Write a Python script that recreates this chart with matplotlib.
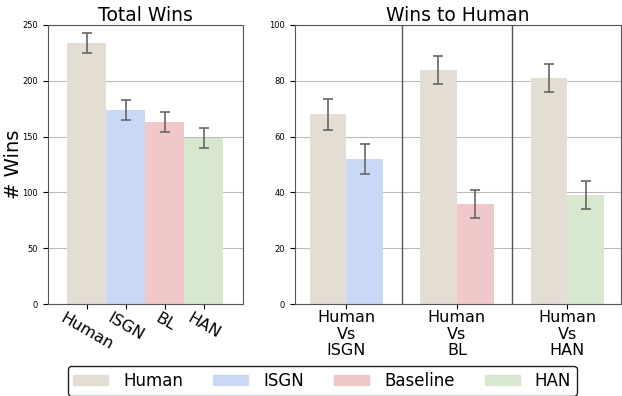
import numpy as np
import matplotlib.pyplot as plt

models = ["Human", "ISGN", "BL", "HAN"]
legend_names = ["Human", "ISGN", "Baseline", "HAN"]
colors = ["#e4ddd4", "#c9d8f5", "#f0c8c9", "#d8e8cf"]

total_wins = [234, 174, 163, 149]
total_err = [9, 9, 9, 9]

pairs = ["Human\nVs\nISGN", "Human\nVs\nBL", "Human\nVs\nHAN"]
human_wins = [68, 84, 81]
human_err = [5.5, 5, 5]
model_wins = [52, 36, 39]
model_err = [5.5, 5, 5]

fig = plt.figure(figsize=(6.22, 3.96), dpi=100)
ax1 = fig.add_axes([0.077, 0.232, 0.3135, 0.705])
ax2 = fig.add_axes([0.474, 0.232, 0.524, 0.705])

ekw = dict(ecolor="#666666", elinewidth=1.2, capsize=3.5, capthick=1.2)

x = np.arange(len(models))
ax1.bar(x, total_wins, width=1.0, color=colors, yerr=total_err, error_kw=ekw, zorder=2)
ax1.set_xlim(-1, 4)
ax1.set_ylim(0, 250)
ax1.set_xticks(x)
ax1.set_xticklabels(models, rotation=-30, fontsize=11.5)
ax1.tick_params(axis="x", pad=1)
ax1.set_title("Total Wins", fontsize=13.5, pad=3)
ax1.set_ylabel("# Wins", fontsize=14)
ax1.yaxis.set_label_coords(-0.128, 0.5)

g = np.arange(len(pairs)) * 3
ax2.bar(g - 0.5, human_wins, width=1.0, color=colors[0], yerr=human_err, error_kw=ekw, zorder=2)
for i in range(len(pairs)):
    ax2.bar(g[i] + 0.5, model_wins[i], width=1.0, color=colors[i + 1],
            yerr=model_err[i], error_kw=ekw, zorder=2)
for v in [1.5, 4.5]:
    ax2.axvline(v, color="#555555", lw=1)
ax2.set_xlim(-1.4, 7.45)
ax2.set_ylim(0, 100)
ax2.set_xticks(g)
ax2.set_xticklabels(pairs, fontsize=11.5, linespacing=1.1)
ax2.tick_params(axis="x", pad=1)
ax2.set_title("Wins to Human", fontsize=13.5, pad=3)

for ax in (ax1, ax2):
    ax.yaxis.grid(True, color="#bbbbbb", lw=0.8, zorder=0)
    ax.set_axisbelow(True)
    ax.tick_params(axis="y", labelsize=6)
    for s in ax.spines.values():
        s.set_color("#555555")

handles = [plt.Rectangle((0, 0), 1, 1, color=c) for c in colors]
fig.legend(handles, legend_names, loc="lower center", bbox_to_anchor=(0.518, -0.02),
           ncol=4, fontsize=12, handlelength=2.1, handleheight=0.6,
           handletextpad=0.9, columnspacing=1.8, edgecolor="#222222",
           framealpha=1, borderpad=0.35)

fig.savefig("out.png", dpi=100)
